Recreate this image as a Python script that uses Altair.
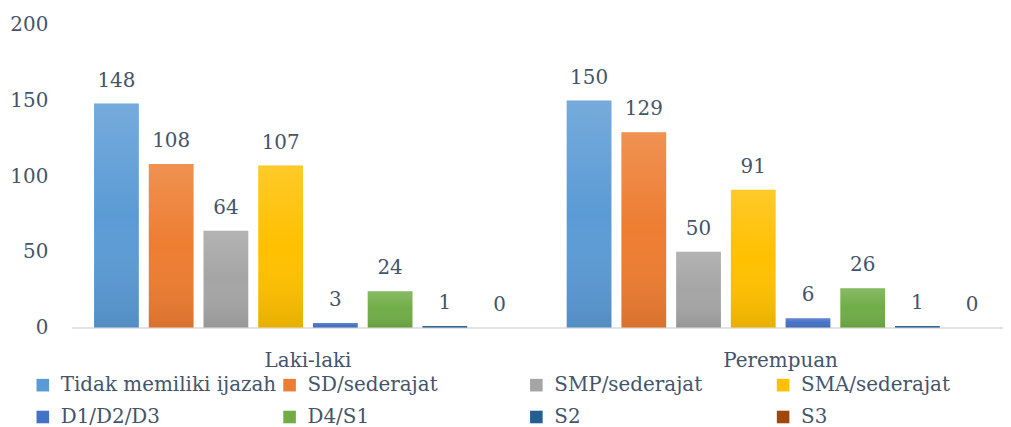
import altair as alt
import pandas as pd

categories = ["Tidak memiliki ijazah", "SD/sederajat", "SMP/sederajat", "SMA/sederajat",
              "D1/D2/D3", "D4/S1", "S2", "S3"]
groups = ["Laki-laki", "Perempuan"]
laki = [148, 108, 64, 107, 3, 24, 1, 0]
perempuan = [150, 129, 50, 91, 6, 26, 1, 0]
colors = ["#5B9BD5", "#ED7D31", "#A5A5A5", "#FFC000", "#4472C4", "#70AD47", "#255E91", "#9E480E"]
y_ticks = [0, 50, 100, 150, 200]

rows = []
for g, vals in zip(groups, [laki, perempuan]):
    for c, v in zip(categories, vals):
        rows.append({"group": g, "cat": c, "value": v})
df = pd.DataFrame(rows)

FONT = "DejaVu Serif"
TXT = "#44546A"
FS = 20

x_enc = alt.X("group:N", sort=groups, title=None,
              scale=alt.Scale(range=[0, 950], paddingInner=0, paddingOuter=0),
              axis=alt.Axis(labelAngle=0, domain=False, ticks=False, labelPadding=23,
                            labelFont=FONT, labelFontSize=FS, labelColor=TXT))
xo_enc = alt.XOffset("cat:N", sort=categories,
                     scale=alt.Scale(paddingInner=0.1818, paddingOuter=0.409))
y_enc = alt.Y("value:Q", title=None,
              scale=alt.Scale(domain=[0, 200], nice=False),
              axis=alt.Axis(values=y_ticks, domain=False, ticks=False, labelPadding=24,
                            labelFont=FONT, labelFontSize=FS, labelColor=TXT,
                            grid=True, gridColor="#D9D9D9", gridWidth=1.5,
                            gridOpacity={"condition": {"test": "datum.value === 0", "value": 1}, "value": 0}))

base = alt.Chart(df)

bars = base.mark_bar().encode(
    x=x_enc, xOffset=xo_enc, y=y_enc,
    color=alt.Color("cat:N", sort=categories, title=None,
                    scale=alt.Scale(domain=categories, range=colors),
                    legend=alt.Legend(orient="none", legendX=-39, legendY=352, columns=4,
                                      direction="horizontal", gridAlign="all",
                                      symbolType="square", symbolSize=160, symbolStrokeWidth=0,
                                      labelFont=FONT, labelFontSize=FS, labelColor=TXT,
                                      labelOffset=8, columnPadding=3, rowPadding=12,
                                      padding=0, labelLimit=400)),
)

shade = base.mark_bar(
    color=alt.Gradient(
        gradient="linear", x1=0, x2=0, y1=0, y2=1,
        stops=[alt.GradientStop(color="rgba(255,255,255,0.16)", offset=0),
               alt.GradientStop(color="rgba(255,255,255,0)", offset=0.5),
               alt.GradientStop(color="rgba(0,0,0,0.09)", offset=1)])
).encode(x=x_enc, xOffset=xo_enc, y=y_enc)

labels = base.mark_text(font=FONT, fontSize=FS, color=TXT, baseline="alphabetic", dy=-17).encode(
    x=x_enc, xOffset=xo_enc, y=y_enc, text="value:Q")

chart = alt.layer(bars, shade, labels).properties(
    width=936, height=304,
    autosize=alt.AutoSizeParams(type="none"),
    padding={"left": 64, "top": 16, "right": 0, "bottom": 99},
).configure_view(stroke=None)

chart.save("out.html", embed_options={"renderer": "svg", "actions": False})
